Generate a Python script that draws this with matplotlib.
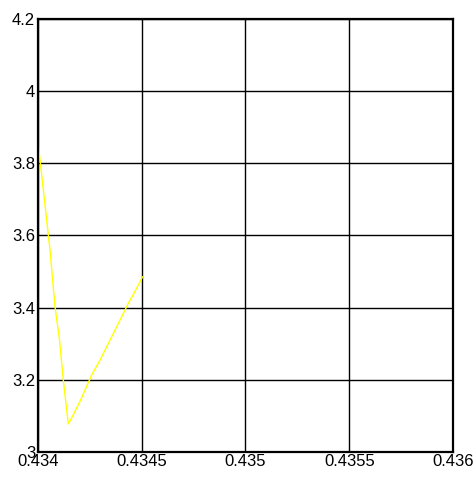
import matplotlib
matplotlib.use("Agg")
import matplotlib.pyplot as plt

# trace samples (x, y)
xs = [0.434000, 0.434058, 0.434082, 0.434103, 0.434122, 0.434146, 0.434162,
      0.434202, 0.434259, 0.434299, 0.434331, 0.434435, 0.434467, 0.434504]
ys = [3.860, 3.559, 3.402, 3.314, 3.199, 3.077, 3.093,
      3.139, 3.213, 3.254, 3.291, 3.411, 3.444, 3.485]

xticks = [0.434, 0.4345, 0.435, 0.4355, 0.436]
xticklabels = ["0.434", "0.4345", "0.435", "0.4355", "0.436"]
yticks = [3, 3.2, 3.4, 3.6, 3.8, 4, 4.2]
yticklabels = ["3", "3.2", "3.4", "3.6", "3.8", "4", "4.2"]

plt.rcParams["font.family"] = ["Liberation Sans", "DejaVu Sans"]

fig = plt.figure(figsize=(4.76, 4.78), dpi=100)
ax = fig.add_axes([0.0798, 0.055, 0.8719, 0.905])
ax.plot(xs, ys, color="#ffff00", lw=1.0)

ax.set_xlim(0.434, 0.436)
ax.set_ylim(3, 4.2)
ax.set_xticks(xticks)
ax.set_xticklabels(xticklabels)
ax.set_yticks(yticks)
ax.set_yticklabels(yticklabels)
ax.tick_params(length=0, labelsize=12, pad=2)
ax.grid(True, color="black", lw=1.0)
for s in ax.spines.values():
    s.set_linewidth(1.6)
    s.set_color("black")

fig.savefig("out.png", dpi=100)
